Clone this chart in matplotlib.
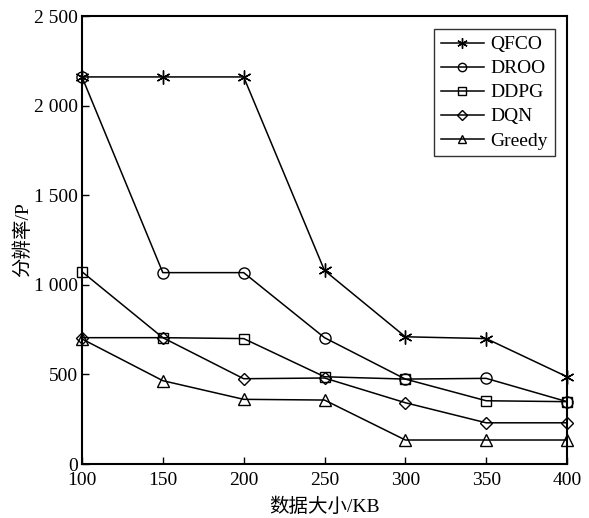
import matplotlib
matplotlib.use('Agg')
import matplotlib.pyplot as plt

# data sizes (KB)
sizes = [100, 150, 200, 250, 300, 350, 400]

qfco = [2160, 2160, 2160, 1080, 710, 700, 487]
droo = [2160, 1068, 1068, 705, 474, 478, 348]
ddpg = [1073, 705, 700, 487, 474, 353, 348]
dqn = [705, 705, 476, 480, 342, 230, 230]
greedy = [698, 465, 361, 357, 134, 134, 134]

yticks = [0, 500, 1000, 1500, 2000, 2500]
ytick_labels = ['0', '500', '1 000', '1 500', '2 000', '2 500']

serif = ['Liberation Serif', 'Noto Sans CJK SC']
plt.rcParams['font.family'] = serif

fig = plt.figure(figsize=(5.89, 5.18), dpi=100)
ax = fig.add_axes([0.1392, 0.1042, 0.8235, 0.8649])

series = [
    ('QFCO', qfco, dict(marker=(6, 2, 0), markersize=10)),
    ('DROO', droo, dict(marker='o', markersize=8)),
    ('DDPG', ddpg, dict(marker='s', markersize=7)),
    ('DQN', dqn, dict(marker='D', markersize=6.5)),
    ('Greedy', greedy, dict(marker='^', markersize=8)),
]
for name, vals, mk in series:
    ax.plot(sizes, vals, color='black', linewidth=1.1, label=name,
            markerfacecolor='none', markeredgecolor='black',
            markeredgewidth=1.0, clip_on=False, **mk)

ax.set_xlim(100, 400)
ax.set_ylim(0, 2500)
ax.set_xticks(sizes)
ax.set_yticks(yticks)
ax.set_yticklabels(ytick_labels)
ax.tick_params(direction='in', length=5, width=1.0, labelsize=14,
               top=False, right=False)
ax.tick_params(axis='x', pad=6)
ax.tick_params(axis='y', pad=3)
for sp in ax.spines.values():
    sp.set_linewidth(1.5)

ax.set_xlabel('数据大小/KB', fontsize=14, family=serif, labelpad=6)
ax.set_ylabel('分辨率/P', fontsize=14, family=serif, labelpad=1)

leg = ax.legend(loc='upper right', bbox_to_anchor=(0.975, 0.971), fontsize=14,
                frameon=True, fancybox=False, edgecolor='black',
                borderpad=0.35, labelspacing=0.33, handlelength=2.2,
                handletextpad=0.36, borderaxespad=0, markerscale=0.75)
leg.get_frame().set_linewidth(1.0)

fig.savefig('out.png', dpi=100)
